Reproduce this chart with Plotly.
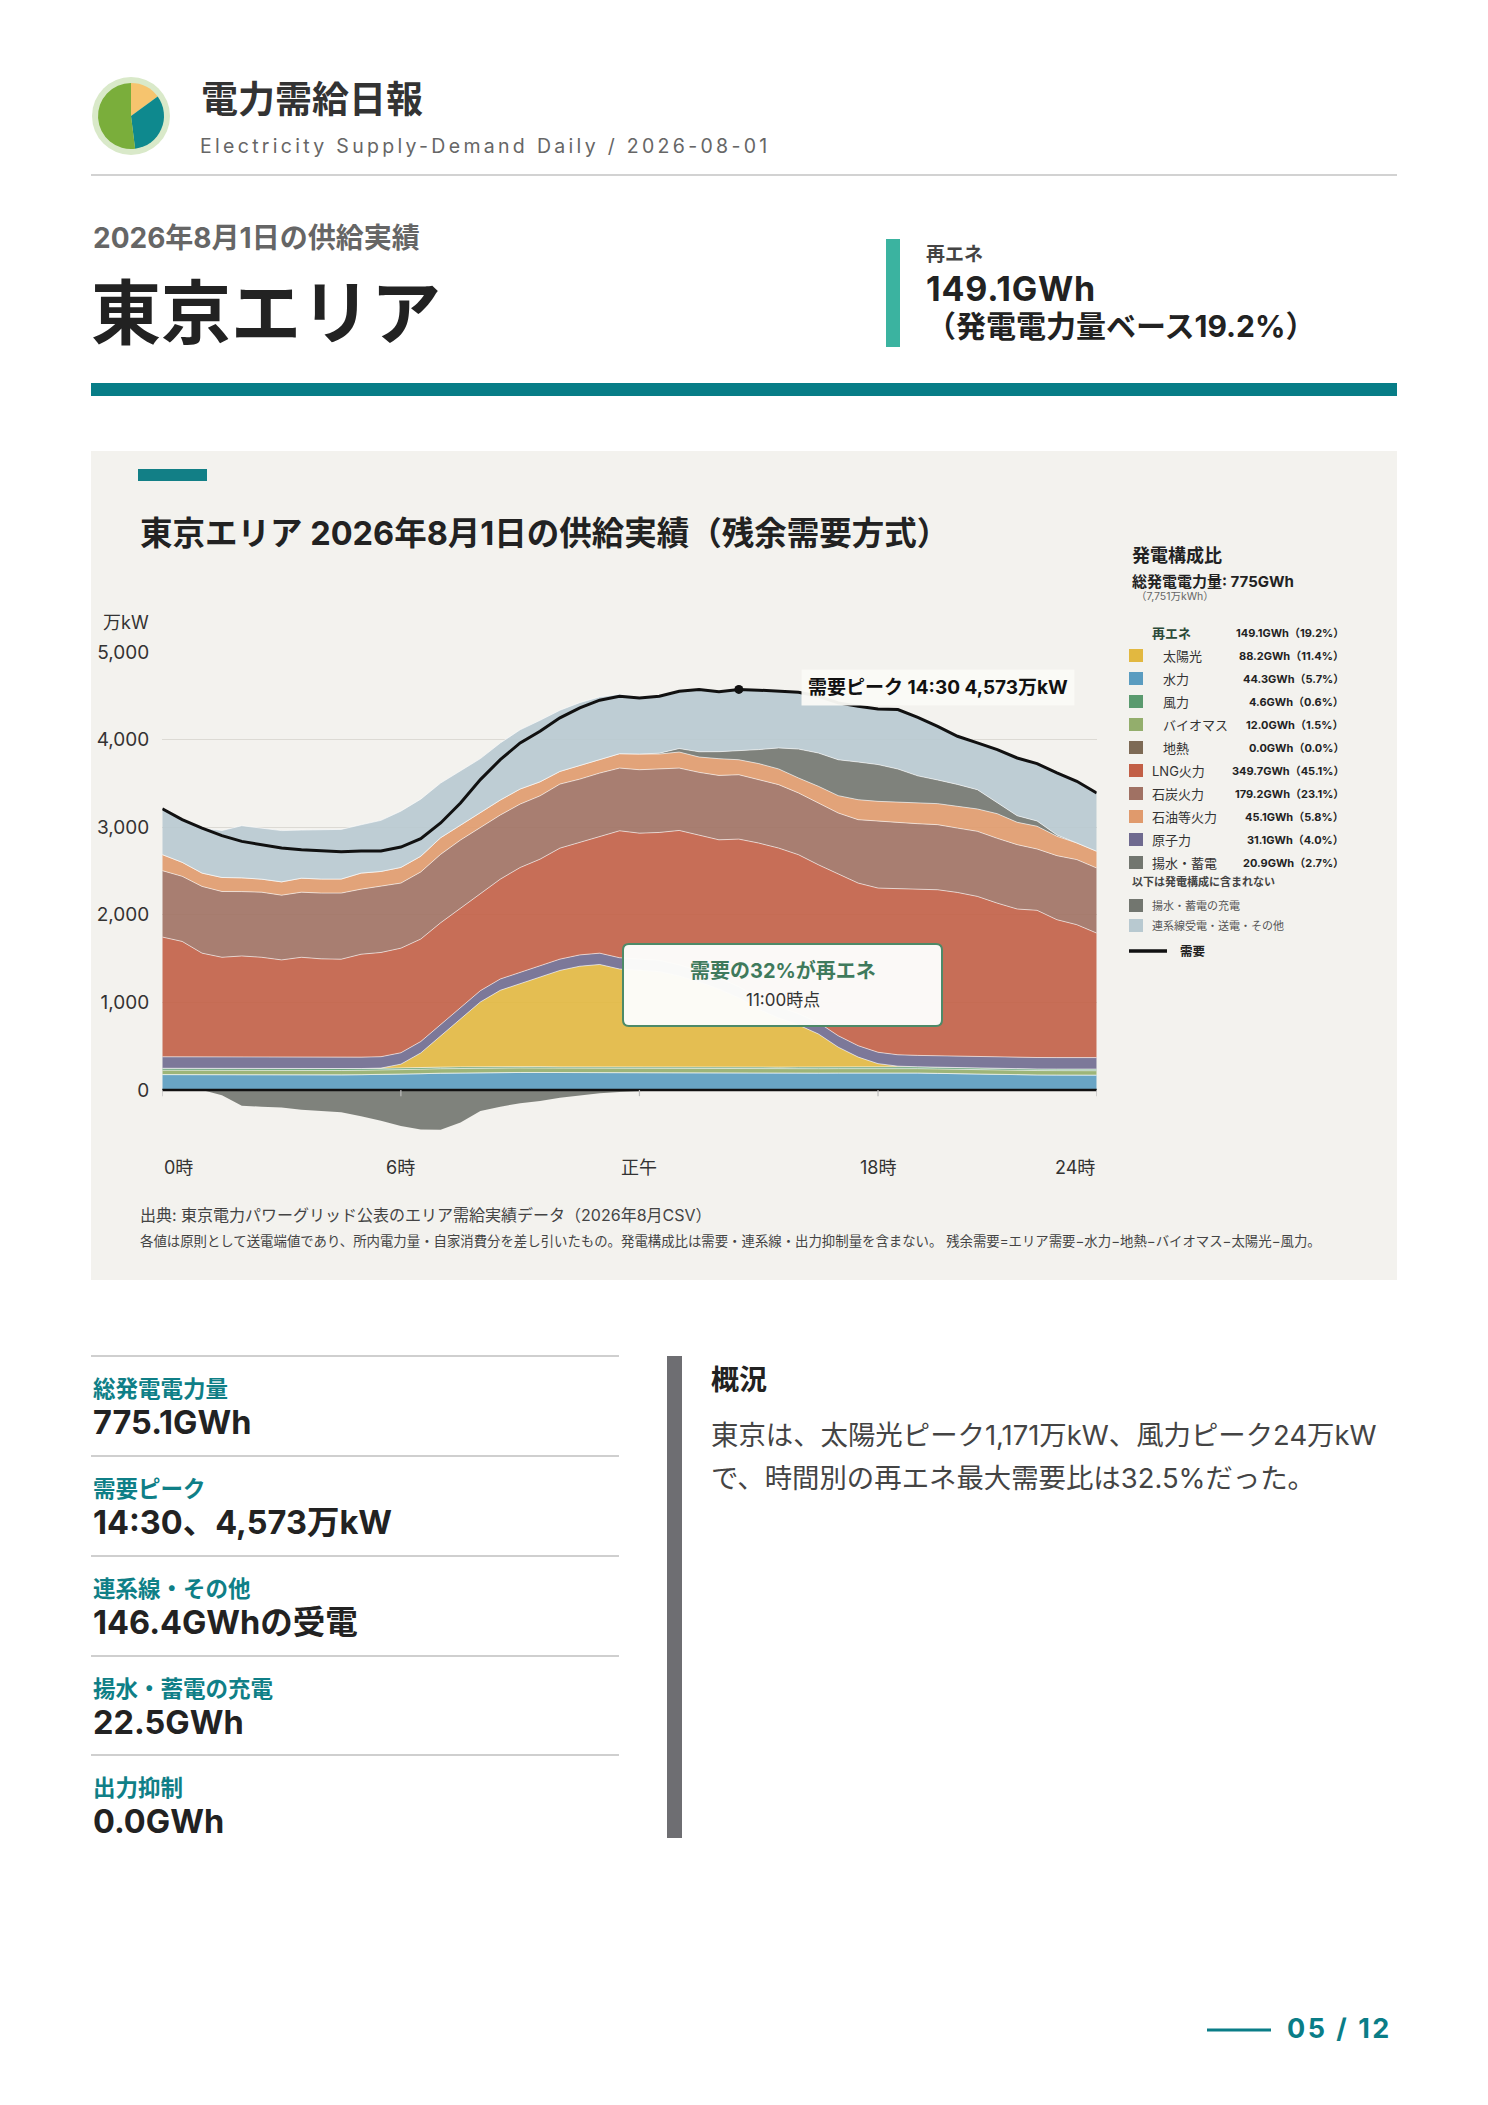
import plotly.graph_objects as go

W, H = 1488, 2105
FONT = "Inter, 'Noto Sans CJK JP'"
CJK = "'Noto Sans CJK JP'"


def X(p):
    return p / W


def Y(p):
    return 1 - p / H


# ---------------- data (万kW, 30-minute values) ----------------
hours = [0.0, 0.5, 1.0, 1.5, 2.0, 2.5, 3.0, 3.5, 4.0, 4.5, 5.0, 5.5,
         6.0, 6.5, 7.0, 7.5, 8.0, 8.5, 9.0, 9.5, 10.0, 10.5, 11.0, 11.5,
         12.0, 12.5, 13.0, 13.5, 14.0, 14.5, 15.0, 15.5, 16.0, 16.5, 17.0, 17.5,
         18.0, 18.5, 19.0, 19.5, 20.0, 20.5, 21.0, 21.5, 22.0, 22.5, 23.0, 23.5]
time_labels = ["0:00", "0:30", "1:00", "1:30", "2:00", "2:30", "3:00", "3:30", "4:00", "4:30", "5:00", "5:30",
               "6:00", "6:30", "7:00", "7:30", "8:00", "8:30", "9:00", "9:30", "10:00", "10:30", "11:00", "11:30",
               "12:00", "12:30", "13:00", "13:30", "14:00", "14:30", "15:00", "15:30", "16:00", "16:30", "17:00", "17:30",
               "18:00", "18:30", "19:00", "19:30", "20:00", "20:30", "21:00", "21:30", "22:00", "22:30", "23:00", "23:30"]

hydro = [176, 175, 173, 172, 171, 170, 170, 171, 172, 173, 175, 177, 180, 186, 192, 196, 198, 199, 200, 200, 199, 198, 197, 196,
         196, 195, 194, 194, 193, 193, 192, 192, 192, 193, 194, 195, 196, 196, 194, 190, 185, 180, 176, 174, 172, 171, 170, 170]
geothermal = [0, 0, 0, 0, 0, 0, 0, 0, 0, 0, 0, 0, 0, 0, 0, 0, 0, 0, 0, 0, 0, 0, 0, 0,
              0, 0, 0, 0, 0, 0, 0, 0, 0, 0, 0, 0, 0, 0, 0, 0, 0, 0, 0, 0, 0, 0, 0, 0]
biomass = [50, 50, 49, 49, 49, 49, 49, 49, 50, 50, 50, 50, 50, 51, 51, 51, 51, 51, 51, 50, 50, 50, 50, 50,
           50, 50, 50, 50, 50, 50, 50, 50, 50, 50, 50, 50, 50, 50, 50, 50, 50, 50, 50, 50, 50, 50, 50, 50]
wind = [22, 22, 23, 23, 24, 24, 23, 22, 22, 21, 20, 20, 19, 18, 18, 17, 17, 16, 16, 16, 15, 15, 15, 15,
        16, 16, 17, 17, 18, 18, 19, 19, 20, 20, 20, 21, 21, 21, 21, 20, 20, 19, 19, 18, 18, 18, 18, 19]
solar = [0, 0, 0, 0, 0, 0, 0, 0, 0, 0, 0, 3, 46, 168, 358, 549, 739, 872, 949, 1025, 1101, 1150, 1171, 1120,
         1100, 1090, 1040, 970, 890, 790, 660, 560, 480, 377, 225, 110, 34, 5, 0, 0, 0, 0, 0, 0, 0, 0, 0, 0]
nuclear = [131, 131, 131, 130, 130, 130, 130, 130, 130, 130, 130, 130, 130, 130, 130, 130, 129, 129, 129, 129, 129, 129, 129, 129,
           129, 129, 129, 129, 129, 129, 130, 130, 130, 130, 130, 130, 130, 130, 130, 130, 130, 130, 130, 131, 131, 131, 131, 131]
lng = [1367, 1318, 1186, 1141, 1156, 1142, 1113, 1143, 1123, 1119, 1175, 1190, 1194, 1170, 1160, 1130, 1100, 1140, 1195, 1215, 1267, 1284, 1325, 1449,
       1441, 1460, 1533, 1553, 1576, 1684, 1768, 1811, 1814, 1801, 1846, 1856, 1874, 1895, 1898, 1896, 1870, 1831, 1758, 1693, 1680, 1574, 1518, 1421]
coal = [758, 743, 762, 751, 735, 743, 739, 743, 751, 755, 743, 754, 743, 766, 781, 781, 761, 732, 724, 723, 731, 723, 731, 716,
        724, 724, 712, 713, 735, 735, 724, 724, 705, 705, 697, 724, 762, 758, 747, 743, 735, 743, 740, 735, 700, 731, 743, 743]
oil = [183, 160, 152, 160, 157, 149, 152, 160, 160, 160, 183, 171, 179, 179, 190, 172, 172, 171, 172, 160, 145, 153, 152, 164,
       179, 171, 183, 175, 191, 171, 183, 179, 171, 191, 198, 228, 228, 229, 236, 240, 248, 255, 281, 255, 260, 221, 190, 191]
pumped = [0, 0, 0, 0, 0, 0, 0, 0, 0, 0, 0, 0, 0, 0, 0, 0, 0, 0, 0, 0, 0, 0, 0, 0,
          0, 10, 40, 60, 80, 100, 160, 240, 330, 380, 410, 430, 420, 380, 310, 270, 250, 220, 130, 75, 60, 15, 0, 0]
interconnect = [525, 488, 514, 536, 595, 582, 585, 549, 563, 567, 552, 583, 642, 652, 624, 621, 616, 651, 676, 702, 698, 720, 717, 678,
                651, 652, 653, 709, 682, 702, 678, 647, 649, 648, 649, 637, 635, 679, 669, 613, 550, 534, 602, 660, 656, 709, 705, 666]
charging = [0, 0, 0, 60, 180, 190, 200, 225, 236, 255, 300, 350, 410, 450, 455, 370, 240, 190, 150, 126, 88, 61, 38, 23,
            11, 3, 0, 0, 0, 0, 0, 0, 0, 0, 0, 0, 0, 0, 0, 0, 0, 0, 0, 0, 0, 0, 0, 0]
demand = [3211, 3086, 2990, 2903, 2838, 2800, 2762, 2743, 2735, 2720, 2728, 2728, 2773, 2869, 3048, 3276, 3543, 3771, 3962, 4095, 4248, 4362, 4450, 4495,
          4476, 4495, 4552, 4571, 4545, 4573, 4564, 4552, 4541, 4495, 4419, 4381, 4350, 4343, 4255, 4152, 4038, 3962, 3886, 3790, 3726, 3619, 3524, 3390]

y_ticks = [0, 1000, 2000, 3000, 4000, 5000]
x_tick_vals = [0, 6, 12, 18, 23.5]
x_tick_text = ["0時", "6時", "正午", "18時", "24時"]

# legend / composition table
legend_names = ["太陽光", "水力", "風力", "バイオマス", "地熱", "LNG火力", "石炭火力", "石油等火力", "原子力", "揚水・蓄電"]
legend_indent = [True, True, True, True, True, False, False, False, False, False]
legend_colors = ["#e2b840", "#5a9cc0", "#5a9a6e", "#93ae6c", "#7d6a55", "#c25f46", "#a07163", "#e09a6c", "#6f6a8f", "#72766f"]
legend_gwh = [88.2, 44.3, 4.6, 12.0, 0.0, 349.7, 179.2, 45.1, 31.1, 20.9]
legend_pct = [11.4, 5.7, 0.6, 1.5, 0.0, 45.1, 23.1, 5.8, 4.0, 2.7]
renew_gwh, renew_pct = 149.1, 19.2
total_gwh_label = "775GWh"
total_man_kwh = "7,751万kWh"
extra_names = ["揚水・蓄電の充電", "連系線受電・送電・その他"]
extra_colors = ["#72766f", "#b8c9d0"]

stat_labels = ["総発電電力量", "需要ピーク", "連系線・その他", "揚水・蓄電の充電", "出力抑制"]
stat_values = ["775.1GWh", "14:30、4,573万kW", "146.4GWhの受電", "22.5GWh", "0.0GWh"]
logo_shares = [15, 33, 52]
logo_colors = ["#f6c46e", "#0e898e", "#7aae3b"]

# ---------------- figure ----------------
fig = go.Figure()


def rgba(hx, a):
    hx = hx.lstrip("#")
    r, g, b = int(hx[0:2], 16), int(hx[2:4], 16), int(hx[4:6], 16)
    return f"rgba({r},{g},{b},{a})"


stack_layers = [
    ("水力", hydro, "#5a9cc0"),
    ("地熱", geothermal, "#7d6a55"),
    ("バイオマス", biomass, "#93ae6c"),
    ("風力", wind, "#5a9a6e"),
    ("太陽光", solar, "#e2b840"),
    ("原子力", nuclear, "#6f6a8f"),
    ("LNG火力", lng, "#c25f46"),
    ("石炭火力", coal, "#a07163"),
    ("石油等火力", oil, "#e09a6c"),
    ("揚水・蓄電", pumped, "#72766f"),
    ("連系線受電・送電・その他", interconnect, "#b8c9d0"),
]
for name, vals, col in stack_layers:
    fig.add_trace(go.Scatter(
        x=hours, y=vals, name=name, stackgroup="supply", mode="lines",
        line=dict(width=0.8, color="rgba(255,255,255,0.75)"),
        fillcolor=rgba(col, 0.9), hoverinfo="skip", showlegend=False))

fig.add_trace(go.Scatter(
    x=hours, y=[-v for v in charging], name="揚水・蓄電の充電", mode="lines",
    fill="tozeroy", line=dict(width=0), fillcolor=rgba("#72766f", 0.9),
    hoverinfo="skip", showlegend=False))

fig.add_trace(go.Scatter(
    x=hours, y=demand, name="需要", mode="lines",
    line=dict(color="#111111", width=3), hoverinfo="skip", showlegend=False))

pk = demand.index(max(demand))
fig.add_trace(go.Scatter(
    x=[hours[pk]], y=[demand[pk]], mode="markers",
    marker=dict(color="#111111", size=9), hoverinfo="skip", showlegend=False))

# logo pie
fig.add_trace(go.Pie(
    values=logo_shares, marker=dict(colors=logo_colors, line=dict(width=0)),
    sort=False, direction="clockwise", rotation=0, textinfo="none",
    hoverinfo="skip", showlegend=False,
    domain=dict(x=[X(98), X(164)], y=[Y(149), Y(83)])))

shapes = []
annotations = []


def rect(x0, y0, x1, y1, color, layer="below"):
    shapes.append(dict(type="rect", xref="paper", yref="paper",
                       x0=X(x0), x1=X(x1), y0=Y(y1), y1=Y(y0),
                       fillcolor=color, line=dict(width=0), layer=layer))


def hline(x0, x1, y, color, width, layer="below"):
    shapes.append(dict(type="line", xref="paper", yref="paper",
                       x0=X(x0), x1=X(x1), y0=Y(y), y1=Y(y),
                       line=dict(color=color, width=width), layer=layer))


def txt(x, y, text, size, color="#222", bold=False, anchor="left", family=FONT, yanchor="middle", spacing=None):
    t = f"<b>{text}</b>" if bold else text
    if spacing is not None:
        t = f"<span style='letter-spacing:{spacing}px'>{t}</span>"
    annotations.append(dict(
        x=X(x), y=Y(y), xref="paper", yref="paper", showarrow=False,
        text=t, xanchor=anchor, yanchor=yanchor,
        font=dict(size=size, color=color, family=family)))


def rrect_path(x0, y0, x1, y1, r):
    p = [
        f"M {X(x0 + r)},{Y(y0)}", f"L {X(x1 - r)},{Y(y0)}",
        f"Q {X(x1)},{Y(y0)} {X(x1)},{Y(y0 + r)}", f"L {X(x1)},{Y(y1 - r)}",
        f"Q {X(x1)},{Y(y1)} {X(x1 - r)},{Y(y1)}", f"L {X(x0 + r)},{Y(y1)}",
        f"Q {X(x0)},{Y(y1)} {X(x0)},{Y(y1 - r)}", f"L {X(x0)},{Y(y0 + r)}",
        f"Q {X(x0)},{Y(y0)} {X(x0 + r)},{Y(y0)}", "Z"]
    return " ".join(p)


L, R = 91, 1397

# ---- header ----
shapes.append(dict(type="circle", xref="paper", yref="paper",
                   x0=X(92), x1=X(170), y0=Y(155), y1=Y(77),
                   fillcolor="#d9e9c9", line=dict(width=0), layer="below"))
txt(199, 97, "電力需給日報", 37, "#333", bold=True, family=CJK)
txt(198, 146, "Electricity Supply-Demand Daily / 2026-08-01", 19.5, "#666", spacing=3.3)
hline(L, R, 175, "#d2d2d2", 2)

txt(91, 238, "2026年8月1日の供給実績", 28, "#666", bold=True)
txt(89, 309, "東京エリア", 70, "#222", bold=True, family=CJK)
rect(886, 239, 900, 347, "#3bb3a0")
txt(924, 254, "再エネ", 19, "#444", bold=True)
txt(924, 288, f"{renew_gwh}GWh", 34, "#222", bold=True, spacing=0.8)
txt(924, 326, f"（発電電力量ベース{renew_pct}%）", 30, "#222", bold=True)
rect(L, 383, R, 396, "#077d87")

# ---- chart panel ----
rect(L, 451, R, 1280, "#f3f2ee")
rect(138, 469, 207, 481, "#127f86")
txt(138, 533, "東京エリア 2026年8月1日の供給実績（残余需要方式）", 32.5, "#222", bold=True)
txt(101, 622, "万kW", 18, "#333")

# zero line & x ticks
shapes.append(dict(type="line", xref="x domain", yref="y", x0=0, x1=1, y0=0, y1=0,
                   line=dict(color="#111", width=2.5), layer="above"))
for xv in x_tick_vals:
    shapes.append(dict(type="line", xref="x", yref="y", x0=xv, x1=xv, y0=0, y1=-70,
                       line=dict(color="#bbbbbb", width=1.2), layer="above"))
for i, (xv, tt) in enumerate(zip(x_tick_vals, x_tick_text)):
    anc = "left" if i == 0 else ("right" if i == len(x_tick_vals) - 1 else "center")
    annotations.append(dict(x=xv, y=Y(1167), xref="x", yref="paper", text=tt, showarrow=False,
                            xanchor=anc, yanchor="middle", font=dict(size=18, color="#333", family=FONT)))

# peak label
annotations.append(dict(
    x=hours[pk], y=demand[pk], xref="x", yref="y", showarrow=False,
    text=f"<b>需要ピーク {time_labels[pk]} {demand[pk]:,}万kW</b>",
    xanchor="left", yanchor="middle", xshift=62, yshift=2,
    bgcolor="rgba(250,250,246,0.96)", borderpad=6,
    font=dict(size=19, color="#111", family=FONT)))

# callout box
shapes.append(dict(type="path", xref="paper", yref="paper", path=rrect_path(623, 944, 942, 1026, 6),
                   fillcolor="rgba(252,252,250,0.98)", line=dict(color="#4d8a68", width=2), layer="above"))
txt(782.5, 971, "需要の32%が再エネ", 20, "#3f7a5c", bold=True, anchor="center")
txt(782.5, 1000, "11:00時点", 17, "#333", anchor="center")

# ---- composition legend ----
txt(1130, 555, "発電構成比", 18, "#222", bold=True)
txt(1130, 582, f"総発電電力量: {total_gwh_label}", 15, "#222", bold=True)
txt(1134, 597, f"（{total_man_kwh}）", 10.5, "#666")
txt(1150, 633, "再エネ", 13, "#2b4a38", bold=True)
txt(1346, 633, f"{renew_gwh}GWh（{renew_pct}%）", 11, "#222", bold=True, anchor="right")
row_y0, row_dy = 656, 23
for i, (nm, col, g, p, ind) in enumerate(zip(legend_names, legend_colors, legend_gwh, legend_pct, legend_indent)):
    yy = row_y0 + i * row_dy
    rect(1129, yy - 7, 1143, yy + 6, col, layer="above")
    txt(1161 if ind else 1150, yy, nm, 13, "#333")
    txt(1346, yy, f"{g:.1f}GWh（{p:.1f}%）", 11, "#222", bold=True, anchor="right")
txt(1130, 882, "以下は発電構成に含まれない", 11, "#444", bold=True)
for i, (nm, col) in enumerate(zip(extra_names, extra_colors)):
    yy = 906 + i * 20
    rect(1129, yy - 7, 1143, yy + 6, col, layer="above")
    txt(1150, yy, nm, 11, "#555")
hline(1129, 1167, 951, "#111", 3.5, layer="above")
txt(1178, 951, "需要", 12.5, "#222", bold=True)

# footnotes
txt(138, 1215, "出典: 東京電力パワーグリッド公表のエリア需給実績データ（2026年8月CSV）", 16, "#444")
txt(138, 1241, "各値は原則として送電端値であり、所内電力量・自家消費分を差し引いたもの。発電構成比は需要・連系線・出力抑制量を含まない。 残余需要=エリア需要−水力−地熱−バイオマス−太陽光−風力。", 13.4, "#444")

# ---- bottom stats ----
sep_ys = [1356, 1456, 1556, 1656, 1755]
for i, (lab, val) in enumerate(zip(stat_labels, stat_values)):
    y0 = sep_ys[i]
    hline(L, 619, y0, "#cfcfcf", 2)
    txt(91, y0 + 32, lab, 22.5, "#0f7f87", bold=True)
    txt(91, y0 + 66, val, 32.5, "#222", bold=True)

rect(667, 1356, 682, 1838, "#6e6e72")
txt(709, 1380, "概況", 28, "#222", bold=True)
txt(709, 1435, "東京は、太陽光ピーク1,171万kW、風力ピーク24万kW", 27.4, "#444")
txt(709, 1478, "で、時間別の再エネ最大需要比は32.5%だった。", 27.4, "#444")

# footer
hline(1207, 1271, 2030, "#0a7d87", 3)
txt(1394, 2028, "05 / 12", 27, "#0a7d87", bold=True, anchor="right", spacing=2.5)

fig.update_layout(
    width=W, height=H, autosize=False,
    margin=dict(l=0, r=0, t=0, b=0, pad=0, autoexpand=False),
    paper_bgcolor="white", plot_bgcolor="#fafaf6",
    showlegend=False,
    xaxis=dict(domain=[X(162.3), X(1096.7)], range=[0, 23.5], showgrid=False, automargin=False,
               showticklabels=False, zeroline=False, showline=False, ticks="", fixedrange=True),
    yaxis=dict(domain=[Y(1143), Y(652)], range=[-605, 5000], tickvals=y_ticks, automargin=False,
               tickformat=",", showgrid=True, gridcolor="#dcdad4", gridwidth=1,
               zeroline=False, showline=False, ticks="", ticklabelstandoff=12,
               tickfont=dict(size=19, color="#333", family=FONT), fixedrange=True),
    shapes=shapes, annotations=annotations,
    font=dict(family=FONT),
)

fig.write_html("out.html", config={"displayModeBar": False},
               post_script="document.body.style.margin='0';document.body.style.overflow='hidden';")
